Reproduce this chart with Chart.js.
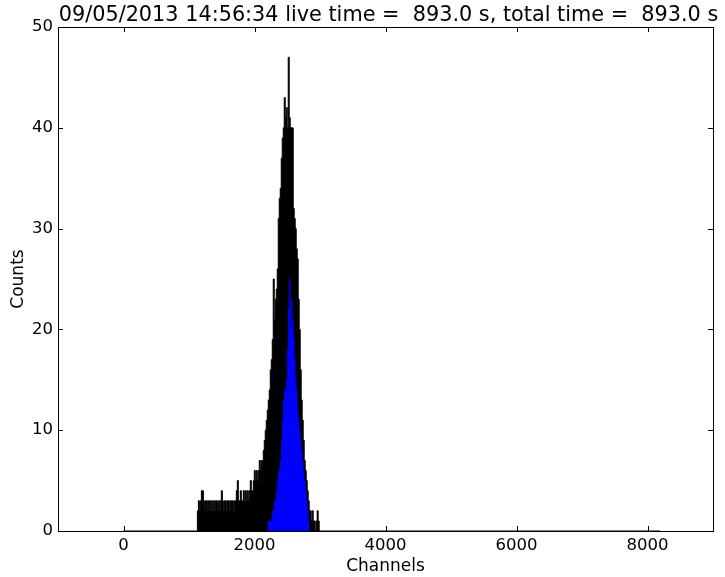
<!DOCTYPE html>
<html><head><meta charset="utf-8">
<script src="https://cdn.jsdelivr.net/npm/chart.js@4/dist/chart.umd.min.js"></script>
<style>html,body{margin:0;padding:0;background:#fff}#wrap{width:725px;height:577px}</style>
</head><body><div id="wrap"><canvas id="c" width="725" height="577"></canvas></div>
<script>
// ---- data ----
const chartTitle = '09/05/2013 14:56:34 live time =  893.0 s, total time =  893.0 s';
const xLabel = 'Channels';
const yLabel = 'Counts';
const xTicks = [0, 2000, 4000, 6000, 8000];
const yTicks = [0, 10, 20, 30, 40, 50];
const totalChannels = 8192;
const binWidth = 15.24;          // channels per bin (grid step)
const spectrumStart = 1128;      // first non-empty channel
const spectrumCounts = [
  2,3,2,3,4,4,3,2,3,3,
  2,3,3,2,3,2,3,2,3,3,
  2,3,2,3,4,3,2,3,3,2,
  3,3,2,3,3,3,2,3,3,4,
  5,3,3,4,3,3,4,3,4,3,
  4,3,4,5,4,4,5,6,5,6,
  5,6,7,6,7,7,8,9,10,11,
  12,13,14,16,17,19,25,21,23,24,
  26,31,33,34,37,39,40,43,41,42,
  40,47,41,40,40,40,32,31,30,28,
  27,23,20,16,13,11,9,7,6,5,
  4,3,2,2,1,2,1,1,0,1,
  2,1
];
const roiStart = 2195;           // region of interest (blue)
const roiCounts = [
  1,1,1,1,1,2,2,3,3,4,
  5,6,6,7,9,11,13,14,14,15,
  18,22,25,20,23,21,19,17,15,14,
  12,11,10,9,8,7,6,5,4,3,
  2,1
];

// ---- build point tables from the arrays ----
function histPoints(start, counts, withBaseline) {
  const pts = [];
  if (withBaseline) pts.push({x: 0, y: 0});
  counts.forEach((c, i) => pts.push({x: start + i * binWidth, y: c}));
  pts.push({x: start + counts.length * binWidth, y: 0});
  if (withBaseline) pts.push({x: totalChannels, y: 0});
  return pts;
}

const framePlugin = {
  id: 'frame',
  afterDatasetsDraw(chart) {
    const {ctx, chartArea: a, scales} = chart;
    ctx.save();
    ctx.strokeStyle = '#000';
    ctx.lineWidth = 1;
    const L = 5;
    ctx.beginPath();
    xTicks.forEach(v => {
      const px = Math.round(scales.x.getPixelForValue(v)) + 0.5;
      ctx.moveTo(px, a.bottom); ctx.lineTo(px, a.bottom - L);
      ctx.moveTo(px, a.top); ctx.lineTo(px, a.top + L);
    });
    yTicks.forEach(v => {
      const py = Math.round(scales.y.getPixelForValue(v)) + 0.5;
      ctx.moveTo(a.left, py); ctx.lineTo(a.left + L, py);
      ctx.moveTo(a.right, py); ctx.lineTo(a.right - L, py);
    });
    ctx.stroke();
    ctx.strokeRect(Math.round(a.left) + 0.5, Math.round(a.top) + 0.5,
                   Math.round(a.right - a.left), Math.round(a.bottom - a.top));
    ctx.fillStyle = '#000';
    ctx.font = '20.8px "DejaVu Sans"';
    ctx.textAlign = 'center';
    ctx.textBaseline = 'alphabetic';
    ctx.fillText(chartTitle, (a.left + a.right) / 2 + 3, 21);
    ctx.restore();
  }
};

new Chart(document.getElementById('c'), {
  type: 'line',
  data: {
    datasets: [
      {
        label: 'ROI',
        data: histPoints(roiStart, roiCounts, false),
        stepped: true,
        borderColor: '#0000ff',
        borderWidth: 0.5,
        backgroundColor: '#0000ff',
        fill: 'origin',
        pointRadius: 0
      },
      {
        label: 'Spectrum',
        data: histPoints(spectrumStart, spectrumCounts, true),
        stepped: true,
        borderColor: '#000000',
        borderWidth: 1,
        backgroundColor: '#000000',
        fill: 'origin',
        pointRadius: 0
      }
    ]
  },
  options: {
    responsive: false,
    animation: false,
    devicePixelRatio: 1,
    layout: {padding: {top: 27, right: 12, left: 0, bottom: 0}},
    plugins: {legend: {display: false}, tooltip: {enabled: false}, title: {display: false}},
    scales: {
      x: {
        type: 'linear', position: 'bottom', min: -1000, max: 9000,
        grid: {display: false, drawTicks: false},
        border: {display: false},
        afterBuildTicks: s => { s.ticks = xTicks.map(v => ({value: v})); },
        afterFit: s => { s.height = 46; },
        ticks: {color: '#000', font: {family: 'DejaVu Sans', size: 16.5}, padding: 5, maxRotation: 0,
                callback: v => String(v)},
        title: {display: true, text: xLabel, color: '#000', font: {family: 'DejaVu Sans', size: 17}, padding: {top: 0, bottom: 0}}
      },
      y: {
        type: 'linear', min: 0, max: 50,
        grid: {display: false, drawTicks: false},
        border: {display: false},
        afterBuildTicks: s => { s.ticks = yTicks.map(v => ({value: v})); },
        afterFit: s => { s.width = 58; },
        ticks: {color: '#000', font: {family: 'DejaVu Sans', size: 16.5}, padding: 5,
                callback: v => String(v)},
        title: {display: true, text: yLabel, color: '#000', font: {family: 'DejaVu Sans', size: 17}, padding: {top: 8, bottom: 0}}
      }
    }
  },
  plugins: [framePlugin]
});
</script>
</body></html>
